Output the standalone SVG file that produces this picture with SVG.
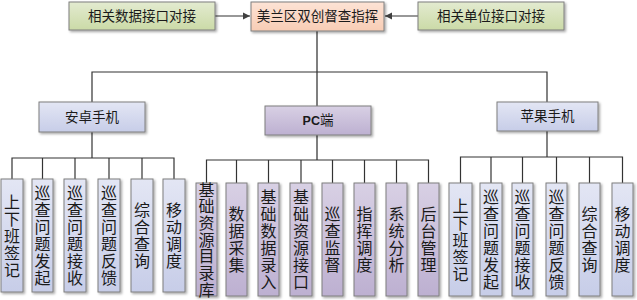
<svg xmlns="http://www.w3.org/2000/svg" width="637" height="300" viewBox="0 0 637 300">
<defs>
<linearGradient id="gGreen" x1="0" y1="0" x2="0" y2="1"><stop offset="0" stop-color="#e3ebd0"/><stop offset="1" stop-color="#cbdaa7"/></linearGradient>
<linearGradient id="gPeach" x1="0" y1="0" x2="0" y2="1"><stop offset="0" stop-color="#fde3d5"/><stop offset="1" stop-color="#f8cdb5"/></linearGradient>
<linearGradient id="gBlue" x1="0" y1="0" x2="0" y2="1"><stop offset="0" stop-color="#e3e6f4"/><stop offset="1" stop-color="#c7cde8"/></linearGradient>
<linearGradient id="gPurple" x1="0" y1="0" x2="0" y2="1"><stop offset="0" stop-color="#d8d0e4"/><stop offset="1" stop-color="#bdb0d1"/></linearGradient>
<filter id="sh" x="-20%" y="-20%" width="150%" height="150%"><feDropShadow dx="1.5" dy="1.5" stdDeviation="1" flood-color="#000" flood-opacity="0.35"/></filter>
<marker id="arr" markerWidth="8" markerHeight="8" refX="7" refY="4" orient="auto" markerUnits="userSpaceOnUse"><path d="M0,0.5 L7,4 L0,7.5 Z" fill="#404040"/></marker>
<style>
.box{stroke:#7f7f7f;stroke-width:1;filter:url(#sh)}
.green{fill:url(#gGreen)}
.peach{fill:url(#gPeach)}
.blue{fill:url(#gBlue)}
.purple{fill:url(#gPurple)}
.t{font-family:"Noto Sans CJK SC","Noto Sans",sans-serif;font-size:13.5px;fill:#1a1a1a;text-anchor:middle}
.v{font-family:"Noto Sans CJK SC","Noto Sans",sans-serif;font-size:16px;fill:#1a1a1a;text-anchor:middle;writing-mode:vertical-rl;letter-spacing:1px}
.ln{stroke:#333;stroke-width:1.2;fill:none}
.thick{stroke:#7f7f7f;stroke-width:2;fill:none}
</style>
</defs>
<g id="connectors">
<line class="ln" x1="215" y1="16" x2="250" y2="16" marker-end="url(#arr)"/>
<line class="ln" x1="418" y1="16" x2="385" y2="16" marker-end="url(#arr)"/>
<line class="thick" x1="317" y1="31" x2="317" y2="160"/>
<polyline class="ln" points="92,102 92,72 547,72 547,102"/>
<line class="ln" x1="92" y1="132" x2="92" y2="158"/>
<line class="ln" x1="547" y1="131" x2="547" y2="157"/>
<polyline class="ln" points="12,179 12,158 174,158 174,179"/>
<line class="ln" x1="42.5" y1="158" x2="42.5" y2="179"/>
<line class="ln" x1="75" y1="158" x2="75" y2="179"/>
<line class="ln" x1="109" y1="158" x2="109" y2="179"/>
<line class="ln" x1="142" y1="158" x2="142" y2="179"/>
<polyline class="ln" points="206.5,183 206.5,160 428.5,160 428.5,183"/>
<line class="ln" x1="236.5" y1="160" x2="236.5" y2="183"/>
<line class="ln" x1="268.5" y1="160" x2="268.5" y2="183"/>
<line class="ln" x1="301" y1="160" x2="301" y2="183"/>
<line class="ln" x1="332.5" y1="160" x2="332.5" y2="183"/>
<line class="ln" x1="364.5" y1="160" x2="364.5" y2="183"/>
<line class="ln" x1="396.5" y1="160" x2="396.5" y2="183"/>
<polyline class="ln" points="460.5,183 460.5,157 622.5,157 622.5,183"/>
<line class="ln" x1="491" y1="157" x2="491" y2="183"/>
<line class="ln" x1="522.5" y1="157" x2="522.5" y2="183"/>
<line class="ln" x1="556.5" y1="157" x2="556.5" y2="183"/>
<line class="ln" x1="589.5" y1="157" x2="589.5" y2="183"/>
</g>
<g id="n-data"><rect class="box green" x="69" y="2" width="146" height="28"/><text class="t" x="142" y="21">相关数据接口对接</text></g>
<g id="n-center"><rect class="box peach" x="251" y="2" width="133" height="29"/><text class="t" x="317.5" y="21">美兰区双创督查指挥</text></g>
<g id="n-unit"><rect class="box green" x="418" y="2" width="146" height="28"/><text class="t" x="491" y="21">相关单位接口对接</text></g>
<g id="n-android"><rect class="box blue" x="39" y="102" width="106" height="30"/><text class="t" x="92" y="122">安卓手机</text></g>
<g id="n-pc"><rect class="box purple" x="265" y="106" width="106" height="29"/><text class="t" x="318" y="125"><tspan font-weight="bold" font-family="Liberation Sans,sans-serif" font-size="12.5">PC</tspan>端</text></g>
<g id="n-apple"><rect class="box blue" x="497" y="102" width="101" height="29"/><text class="t" x="547.5" y="121">苹果手机</text></g>

<g id="a1"><rect class="box blue" x="1" y="179" width="22" height="113"/><text class="v" x="12" y="236">上下班签记</text></g>
<g id="a2"><rect class="box blue" x="32" y="179" width="21" height="113"/><text class="v" x="42.5" y="236">巡查问题发起</text></g>
<g id="a3"><rect class="box blue" x="64" y="179" width="22" height="113"/><text class="v" x="75" y="236">巡查问题接收</text></g>
<g id="a4"><rect class="box blue" x="98" y="179" width="22" height="113"/><text class="v" x="109" y="236">巡查问题反馈</text></g>
<g id="a5"><rect class="box blue" x="131" y="179" width="22" height="113"/><text class="v" x="142" y="236">综合查询</text></g>
<g id="a6"><rect class="box blue" x="163" y="179" width="22" height="113"/><text class="v" x="174" y="236">移动调度</text></g>

<g id="p1"><rect class="box purple" x="196" y="183" width="21" height="113"/><text class="v" x="206.5" y="240" style="letter-spacing:0.7px">基础资源目录库</text></g>
<g id="p2"><rect class="box purple" x="226" y="183" width="21" height="113"/><text class="v" x="236.5" y="240">数据采集</text></g>
<g id="p3"><rect class="box purple" x="258" y="183" width="21" height="113"/><text class="v" x="268.5" y="240">基础数据录入</text></g>
<g id="p4"><rect class="box purple" x="290" y="183" width="22" height="113"/><text class="v" x="301" y="240">基础资源接口</text></g>
<g id="p5"><rect class="box purple" x="322" y="183" width="21" height="113"/><text class="v" x="332.5" y="240">巡查监督</text></g>
<g id="p6"><rect class="box purple" x="354" y="183" width="21" height="113"/><text class="v" x="364.5" y="240">指挥调度</text></g>
<g id="p7"><rect class="box purple" x="386" y="183" width="21" height="113"/><text class="v" x="396.5" y="240">系统分析</text></g>
<g id="p8"><rect class="box purple" x="418" y="183" width="21" height="113"/><text class="v" x="428.5" y="240">后台管理</text></g>

<g id="i1"><rect class="box blue" x="449" y="183" width="23" height="113"/><text class="v" x="460.5" y="240">上下班签记</text></g>
<g id="i2"><rect class="box blue" x="480" y="183" width="22" height="113"/><text class="v" x="491" y="240">巡查问题发起</text></g>
<g id="i3"><rect class="box blue" x="512" y="183" width="21" height="113"/><text class="v" x="522.5" y="240">巡查问题接收</text></g>
<g id="i4"><rect class="box blue" x="546" y="183" width="21" height="113"/><text class="v" x="556.5" y="240">巡查问题反馈</text></g>
<g id="i5"><rect class="box blue" x="579" y="183" width="21" height="113"/><text class="v" x="589.5" y="240">综合查询</text></g>
<g id="i6"><rect class="box blue" x="612" y="183" width="21" height="113"/><text class="v" x="622.5" y="240">移动调度</text></g>
</svg>
